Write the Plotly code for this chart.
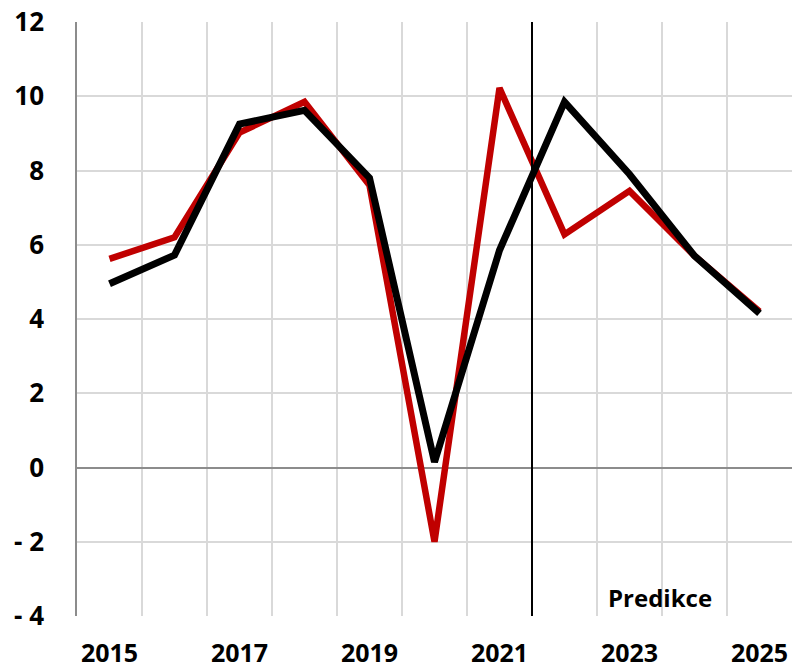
import plotly.graph_objects as go

years = [2015, 2016, 2017, 2018, 2019, 2020, 2021, 2022, 2023, 2024, 2025]
red_series = [5.62, 6.2, 9.02, 9.85, 7.6, -2.0, 10.22, 6.28, 7.45, 5.7, 4.2]
black_series = [4.95, 5.72, 9.25, 9.62, 7.8, 0.15, 5.85, 9.85, 7.9, 5.7, 4.15]
x_ticks = [2015, 2017, 2019, 2021, 2023, 2025]
y_ticks = [-4, -2, 0, 2, 4, 6, 8, 10, 12]
y_labels = ["- 4", "- 2", "0", "2", "4", "6", "8", "10", "12"]
split_year = 2021.5
label_text = "Predikce"

font_family = "Open Sans, Liberation Sans, sans-serif"

fig = go.Figure()
fig.add_trace(go.Scatter(x=years, y=red_series, mode="lines",
                         line=dict(color="#C00000", width=6.5), showlegend=False))
fig.add_trace(go.Scatter(x=years, y=black_series, mode="lines",
                         line=dict(color="#000000", width=7), showlegend=False))

fig.add_shape(type="line", x0=split_year, x1=split_year, y0=-4, y1=12,
              xref="x", yref="y", line=dict(color="black", width=2))

fig.add_annotation(x=2023.47, y=-3.5, text=f"<b>{label_text}</b>", showarrow=False,
                   font=dict(family=font_family, size=24, color="black"))

fig.update_layout(
    width=792, height=671,
    margin=dict(l=77, r=0, t=22, b=55, autoexpand=False),
    paper_bgcolor="white", plot_bgcolor="white",
    font=dict(family=font_family, color="black"),
    xaxis=dict(range=[2014.5, 2025.5], tickvals=x_ticks, showgrid=False,
               ticks="", ticklabelstandoff=20, zeroline=False, automargin=False,
               tickfont=dict(size=25, family=font_family, weight="bold"),
               minor=dict(tick0=2014.5, dtick=1, showgrid=True,
                          gridcolor="#d9d9d9", gridwidth=1.5, ticks=""),
               showline=False),
    yaxis=dict(range=[-4, 12], tickvals=y_ticks, ticktext=y_labels,
               showgrid=True, gridcolor="#d9d9d9", gridwidth=1.5, automargin=False,
               zeroline=True, zerolinecolor="#8c8c8c", zerolinewidth=1.5,
               showline=True, linecolor="#8c8c8c", linewidth=1.5,
               ticks="", ticklabelstandoff=26,
               tickfont=dict(size=26, family=font_family, weight="bold")),
)

fig.write_html("out.html", config={"displayModeBar": False},
               post_script="document.body.style.margin='0';document.body.style.overflow='hidden';")
